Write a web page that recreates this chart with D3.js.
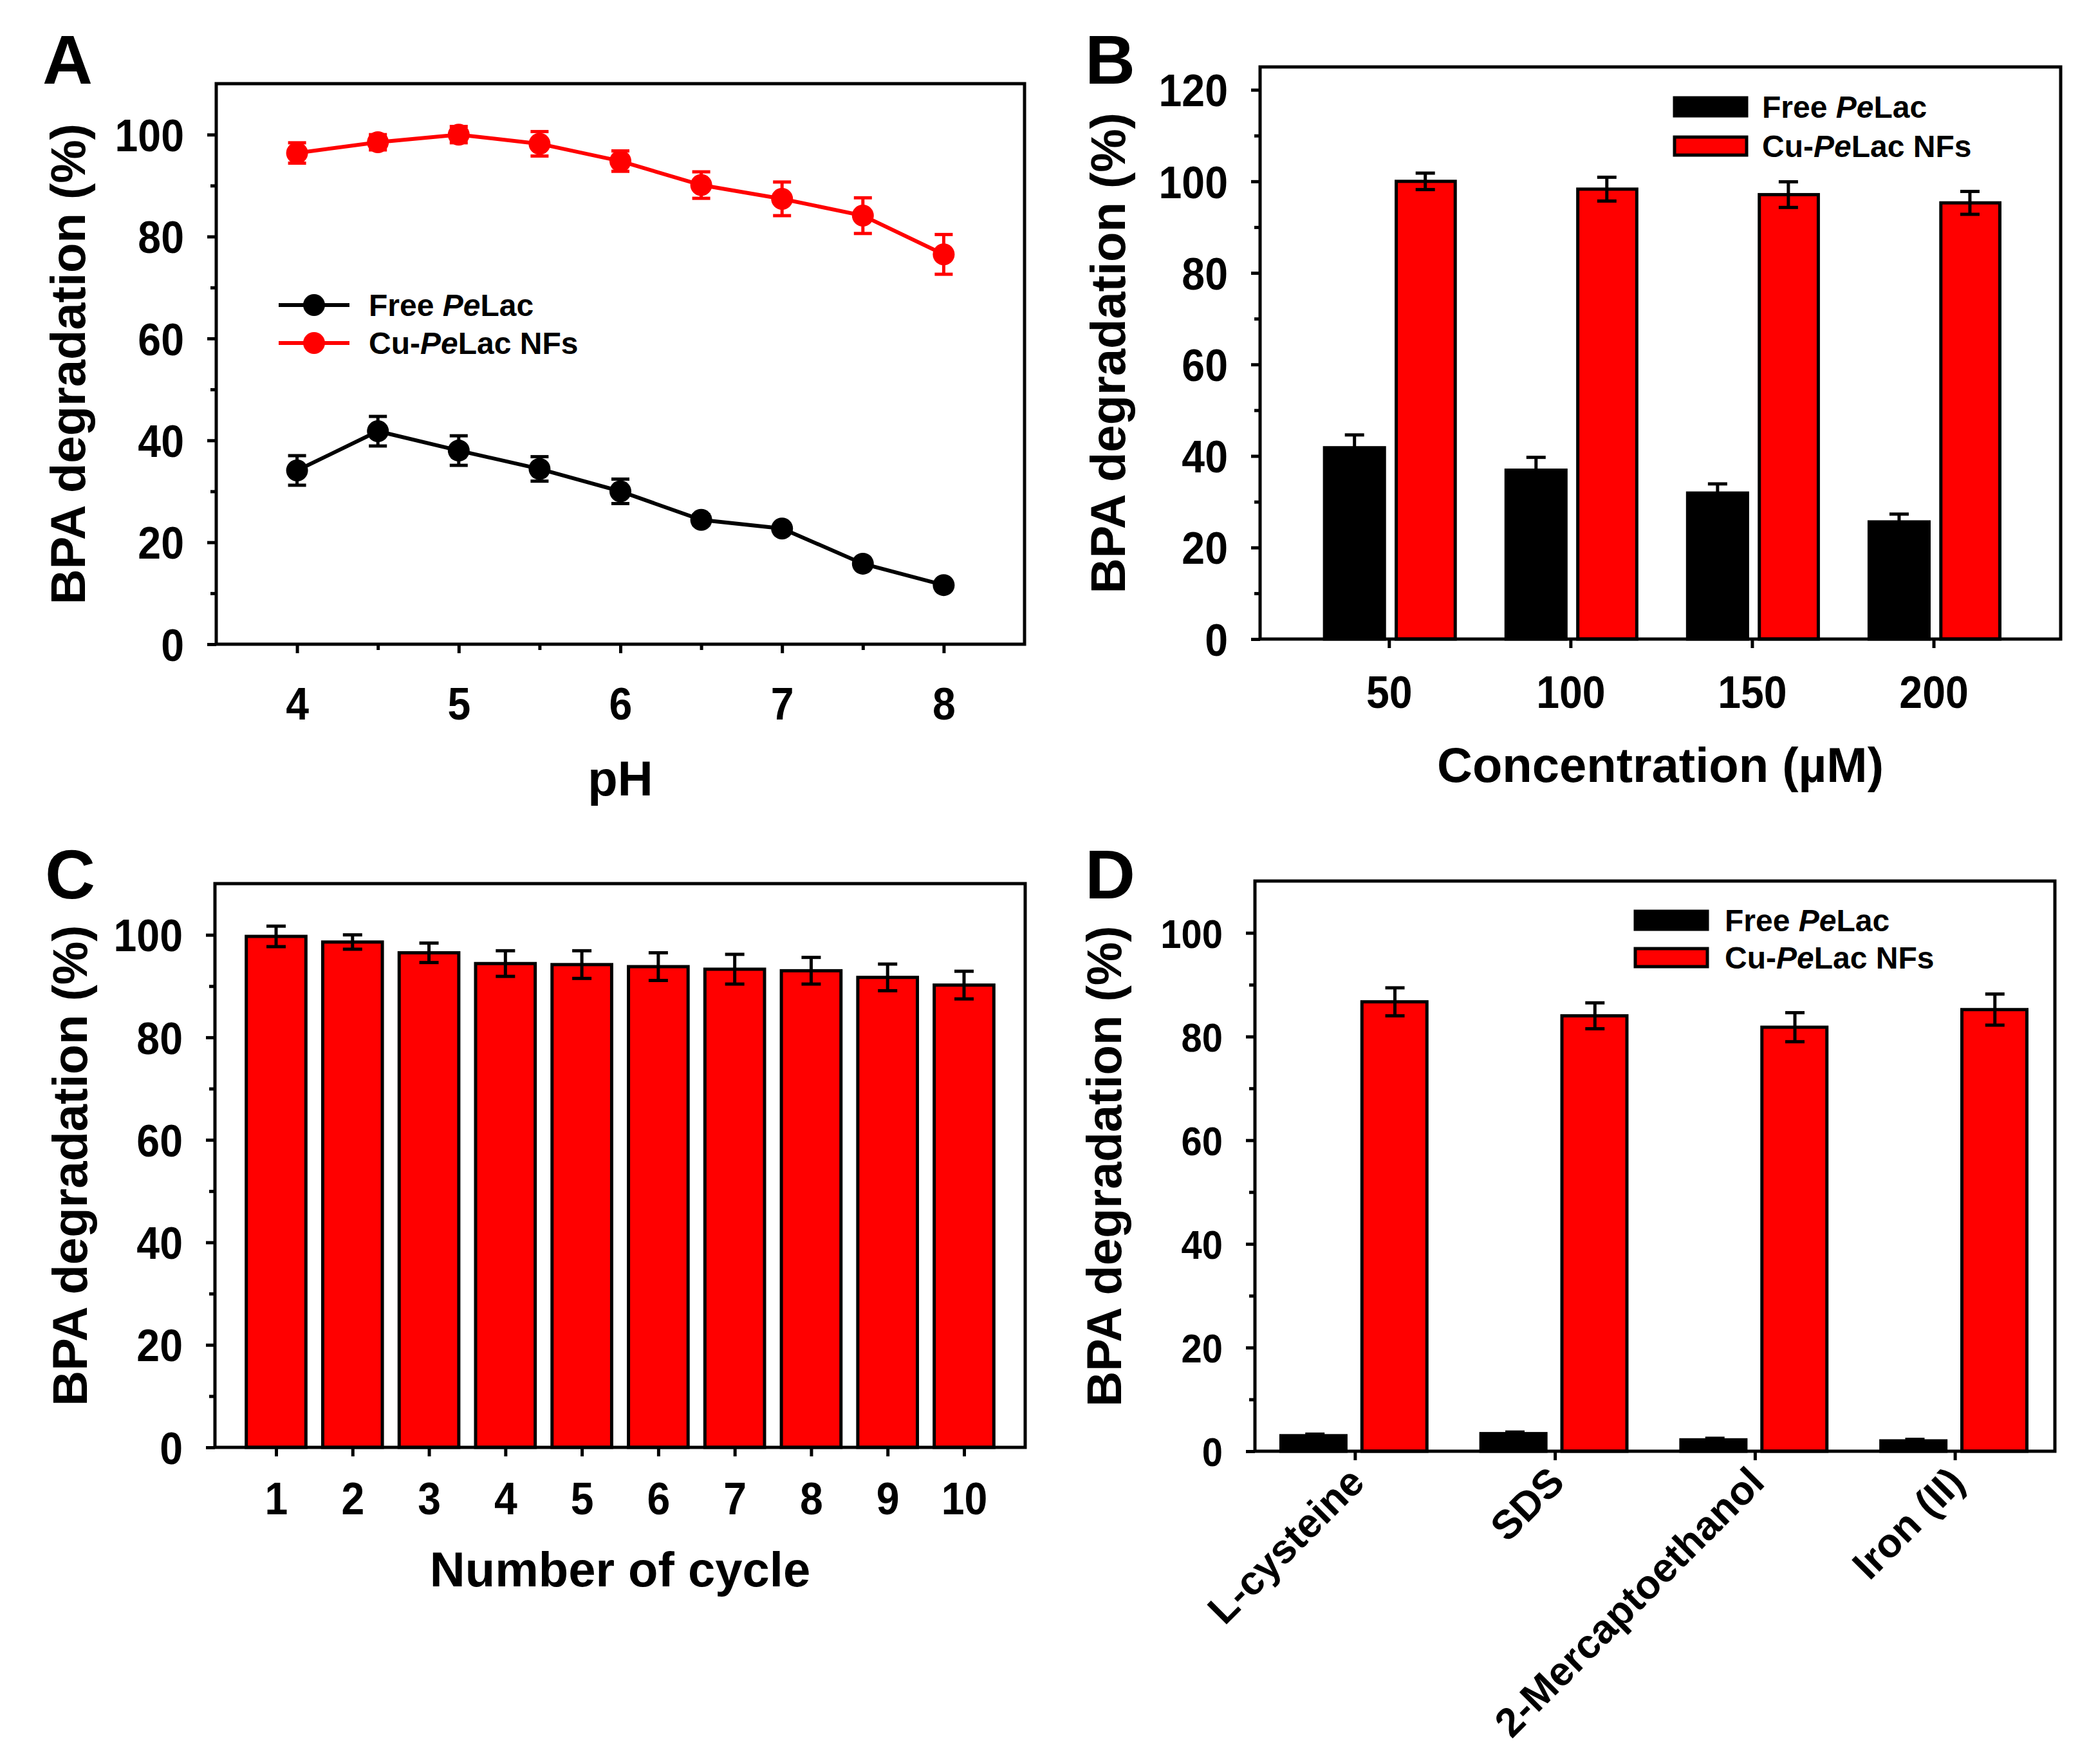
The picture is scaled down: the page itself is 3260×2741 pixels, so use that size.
<!DOCTYPE html>
<html>
<head>
<meta charset="utf-8">
<script src="https://cdn.jsdelivr.net/npm/d3@7/dist/d3.min.js"></script>
<style>
  body { margin: 0; background: #fff; }
  text { font-family: "Liberation Sans", Arial, sans-serif; font-weight: bold; fill: #000; }
</style>
</head>
<body>
<svg id="fig" width="3260" height="2741"></svg>
<script>

  // A: effect of pH
  const pH = [4, 4.5, 5, 5.5, 6, 6.5, 7, 7.5, 8];
  const phFree = [34.1, 41.8, 38.0, 34.4, 30.0, 24.4, 22.7, 15.8, 11.6];
  const phFreeErr = [2.9, 2.9, 2.9, 2.4, 2.4, 1.0, 0.8, 0.8, 0.8];
  const phCu = [96.4, 98.5, 100, 98.2, 94.8, 90.1, 87.4, 84.1, 76.5];
  const phCuErr = [2.0, 1.5, 1.6, 2.4, 2.0, 2.6, 3.3, 3.5, 3.9];

  // B: BPA concentration (uM)
  const conc = ['50', '100', '150', '200'];
  const concFree = [41.8, 36.9, 31.9, 25.6];
  const concFreeErr = [2.8, 2.8, 2.0, 1.7];
  const concCu = [100, 98.3, 97.1, 95.3];
  const concCuErr = [1.8, 2.6, 2.8, 2.5];

  // C: reuse cycles
  const cycles = [1, 2, 3, 4, 5, 6, 7, 8, 9, 10];
  const cycleVal = [99.7, 98.6, 96.5, 94.4, 94.2, 93.8, 93.3, 93.0, 91.7, 90.2];
  const cycleErr = [2.0, 1.4, 1.9, 2.5, 2.7, 2.7, 2.9, 2.6, 2.6, 2.7];

  // D: inhibitors
  const inhib = ['L-cysteine', 'SDS', '2-Mercaptoethanol', 'Iron (II)'];
  const inhFree = [3.0, 3.4, 2.2, 2.0];
  const inhFreeErr = [0.3, 0.3, 0.3, 0.3];
  const inhCu = [86.7, 84.0, 81.8, 85.2];
  const inhCuErr = [2.7, 2.5, 2.8, 3.0];

  const yTitle = 'BPA degradation (%)';
  const RED = '#ff0000';

  const svg = d3.select('#fig');
  svg.append('rect').attr('width', 3260).attr('height', 2741).attr('fill', '#fff');

  // axes box with outward ticks, returns scales
  function panel(o) {
    const g = svg.append('g');
    const x = d3.scaleLinear().domain(o.xd).range([o.x0, o.x1]);
    const y = d3.scaleLinear().domain(o.yd).range([o.y1, o.y0]);

    const yAx = g.append('g')
      .attr('transform', `translate(${o.x0},0)`)
      .call(d3.axisLeft(y).tickValues(o.yMajor).tickSize(14).tickPadding(0));
    yAx.selectAll('text')
      .attr('x', -50 / 0.92)
      .attr('dy', '0.36em')
      .attr('transform', 'scale(0.92,1)');
    g.append('g')
      .attr('transform', `translate(${o.x0},0)`)
      .call(d3.axisLeft(y).tickValues(o.yMinor).tickSize(9).tickFormat(''));

    const xAx = g.append('g')
      .attr('transform', `translate(0,${o.y1})`)
      .call(d3.axisBottom(x).tickValues(o.xMajor).tickSize(14)
        .tickFormat(o.xFormat || d3.format('d')));
    if (o.xRotate) {
      xAx.selectAll('text')
        .attr('y', 0).attr('dy', '0.35em')
        .attr('text-anchor', 'end')
        .attr('transform', 'translate(2,36) rotate(-45)');
    } else {
      xAx.selectAll('text')
        .attr('y', 0).attr('dy', 0)
        .attr('transform', `translate(0,${o.xTickY || 117}) scale(0.92,1)`);
    }
    if (o.xMinor) {
      g.append('g')
        .attr('transform', `translate(0,${o.y1})`)
        .call(d3.axisBottom(x).tickValues(o.xMinor).tickSize(9).tickFormat(''));
    }

    g.selectAll('.domain').remove();
    g.selectAll('.tick line').attr('stroke', '#000').attr('stroke-width', 5);
    g.selectAll('.tick text').attr('font-size', 70 * (o.tickScale || 1)).attr('fill', '#000');
    g.selectAll('g').attr('font-family', null).attr('font-size', null);

    // titles
    svg.append('text')
      .attr('transform', `translate(${o.yTitleX},${(o.y0 + o.y1) / 2}) rotate(-90)`)
      .attr('text-anchor', 'middle')
      .attr('font-size', 76)
      .text(yTitle);
    if (o.xTitle) {
      svg.append('text')
        .attr('x', (o.x0 + o.x1) / 2)
        .attr('y', o.xTitleY)
        .attr('text-anchor', 'middle')
        .attr('font-size', 76)
        .text(o.xTitle);
    }
    svg.append('text')
      .attr('x', o.labX).attr('y', o.labY)
      .attr('font-size', 108)
      .text(o.letter);

    return { x, y, g };
  }

  function drawFrame(o) {
    svg.append('rect')
      .attr('x', o.x0).attr('y', o.y0)
      .attr('width', o.x1 - o.x0).attr('height', o.y1 - o.y0)
      .attr('fill', 'none').attr('stroke', '#000').attr('stroke-width', 5);
  }

  function errBar(g, x, y, cx, v, e, cap, color) {
    g.append('line')
      .attr('x1', x(cx)).attr('x2', x(cx))
      .attr('y1', y(v - e)).attr('y2', y(v + e))
      .attr('stroke', color).attr('stroke-width', 5);
    [v - e, v + e].forEach(function(t) {
      g.append('line')
        .attr('x1', x(cx) - cap).attr('x2', x(cx) + cap)
        .attr('y1', y(t)).attr('y2', y(t))
        .attr('stroke', color).attr('stroke-width', 5);
    });
  }

  function legendName(t, free) {
    if (free) {
      t.append('tspan').text('Free ');
      t.append('tspan').attr('font-style', 'italic').text('Pe');
      t.append('tspan').text('Lac');
    } else {
      t.append('tspan').text('Cu-');
      t.append('tspan').attr('font-style', 'italic').text('Pe');
      t.append('tspan').text('Lac NFs');
    }
  }

  // ---------- Panel A ----------
  const oA = {
    x0: 336, x1: 1592, y0: 130, y1: 1001,
    xd: [3.5, 8.5], yd: [0, 110],
    yMajor: [0, 20, 40, 60, 80, 100], yMinor: [10, 30, 50, 70, 90],
    xMajor: [4, 5, 6, 7, 8], xMinor: [4.5, 5.5, 6.5, 7.5],
    xTitle: 'pH', xTitleY: 1236, yTitleX: 132,
    letter: 'A', labX: 66, labY: 130
  };
  const A = panel(oA);
  const gA = svg.append('g');
  [[phFree, phFreeErr, '#000'], [phCu, phCuErr, RED]].forEach(function(s) {
    const pts = pH.map((p, i) => [p, s[0][i]]);
    gA.append('path')
      .attr('d', d3.line().x(d => A.x(d[0])).y(d => A.y(d[1]))(pts))
      .attr('fill', 'none').attr('stroke', s[2]).attr('stroke-width', 6);
    pH.forEach((p, i) => errBar(gA, A.x, A.y, p, s[0][i], s[1][i], 14, s[2]));
    gA.selectAll(null).data(pts).enter().append('circle')
      .attr('cx', d => A.x(d[0])).attr('cy', d => A.y(d[1]))
      .attr('r', 17).attr('fill', s[2]);
  });
  // legend A
  [['#000', true, 474], [RED, false, 533]].forEach(function(l) {
    gA.append('line').attr('x1', 433).attr('x2', 543).attr('y1', l[2]).attr('y2', l[2])
      .attr('stroke', l[0]).attr('stroke-width', 6);
    gA.append('circle').attr('cx', 488).attr('cy', l[2]).attr('r', 17).attr('fill', l[0]);
    legendName(gA.append('text').attr('x', 573).attr('y', l[2]).attr('dy', '0.36em')
      .attr('font-size', 48), l[1]);
  });
  drawFrame(oA);

  // ---------- Panel B ----------
  const oB = {
    x0: 1958, x1: 3202, y0: 104, y1: 993,
    xd: [0.29, 4.7], yd: [0, 125],
    yMajor: [0, 20, 40, 60, 80, 100, 120], yMinor: [10, 30, 50, 70, 90, 110],
    xMajor: [1, 2, 3, 4], xFormat: d => conc[d - 1], xTickY: 107,
    xTitle: 'Concentration (\u00b5M)', xTitleY: 1215, yTitleX: 1748,
    letter: 'B', labX: 1686, labY: 130
  };
  const B = panel(oB);
  const gB = svg.append('g');
  conc.forEach(function(c, i) {
    const k = i + 1;
    gB.append('rect')
      .attr('x', B.x(k - 0.355)).attr('width', B.x(k - 0.025) - B.x(k - 0.355))
      .attr('y', B.y(concFree[i])).attr('height', B.y(0) - B.y(concFree[i]))
      .attr('fill', '#000').attr('stroke', '#000').attr('stroke-width', 5);
    gB.append('rect')
      .attr('x', B.x(k + 0.04)).attr('width', B.x(k + 0.365) - B.x(k + 0.04))
      .attr('y', B.y(concCu[i])).attr('height', B.y(0) - B.y(concCu[i]))
      .attr('fill', RED).attr('stroke', '#000').attr('stroke-width', 5);
    errBar(gB, B.x, B.y, k - 0.19, concFree[i], concFreeErr[i], 15, '#000');
    errBar(gB, B.x, B.y, k + 0.2, concCu[i], concCuErr[i], 15, '#000');
  });
  [['#000', true, 152], [RED, false, 213]].forEach(function(l) {
    gB.append('rect').attr('x', 2602).attr('y', l[2]).attr('width', 112).attr('height', 28)
      .attr('fill', l[0]).attr('stroke', '#000').attr('stroke-width', 5);
    legendName(gB.append('text').attr('x', 2738).attr('y', l[2] + 14).attr('dy', '0.36em')
      .attr('font-size', 48), l[1]);
  });
  drawFrame(oB);

  // ---------- Panel C ----------
  const oC = {
    x0: 334, x1: 1593, y0: 1373, y1: 2249,
    xd: [0.2, 10.8], yd: [0, 110],
    yMajor: [0, 20, 40, 60, 80, 100], yMinor: [10, 30, 50, 70, 90],
    xMajor: cycles, xTickY: 104,
    xTitle: 'Number of cycle', xTitleY: 2465, yTitleX: 135,
    letter: 'C', labX: 70, labY: 1396
  };
  const C = panel(oC);
  const gC = svg.append('g');
  cycles.forEach(function(c, i) {
    gC.append('rect')
      .attr('x', C.x(c - 0.39)).attr('width', C.x(c + 0.39) - C.x(c - 0.39))
      .attr('y', C.y(cycleVal[i])).attr('height', C.y(0) - C.y(cycleVal[i]))
      .attr('fill', RED).attr('stroke', '#000').attr('stroke-width', 5);
    errBar(gC, C.x, C.y, c, cycleVal[i], cycleErr[i], 15, '#000');
  });
  drawFrame(oC);

  // ---------- Panel D ----------
  const oD = {
    x0: 1950, x1: 3193, y0: 1369, y1: 2255,
    xd: [0.5, 4.5], yd: [0, 110],
    yMajor: [0, 20, 40, 60, 80, 100], yMinor: [10, 30, 50, 70, 90],
    xMajor: [1, 2, 3, 4], xFormat: d => inhib[d - 1], xRotate: true, tickScale: 0.9,
    yTitleX: 1742,
    letter: 'D', labX: 1686, labY: 1396
  };
  const D = panel(oD);
  const gD = svg.append('g');
  inhib.forEach(function(c, i) {
    const k = i + 1;
    gD.append('rect')
      .attr('x', D.x(k - 0.37)).attr('width', D.x(k - 0.045) - D.x(k - 0.37))
      .attr('y', D.y(inhFree[i])).attr('height', D.y(0) - D.y(inhFree[i]))
      .attr('fill', '#000').attr('stroke', '#000').attr('stroke-width', 5);
    gD.append('rect')
      .attr('x', D.x(k + 0.035)).attr('width', D.x(k + 0.36) - D.x(k + 0.035))
      .attr('y', D.y(inhCu[i])).attr('height', D.y(0) - D.y(inhCu[i]))
      .attr('fill', RED).attr('stroke', '#000').attr('stroke-width', 5);
    errBar(gD, D.x, D.y, k - 0.2, inhFree[i], inhFreeErr[i], 15, '#000');
    errBar(gD, D.x, D.y, k + 0.2, inhCu[i], inhCuErr[i], 15, '#000');
  });
  [['#000', true, 1416], [RED, false, 1474]].forEach(function(l) {
    gD.append('rect').attr('x', 2541).attr('y', l[2]).attr('width', 112).attr('height', 28)
      .attr('fill', l[0]).attr('stroke', '#000').attr('stroke-width', 5);
    legendName(gD.append('text').attr('x', 2680).attr('y', l[2] + 14).attr('dy', '0.36em')
      .attr('font-size', 48), l[1]);
  });
  drawFrame(oD);

</script>
</body>
</html>
